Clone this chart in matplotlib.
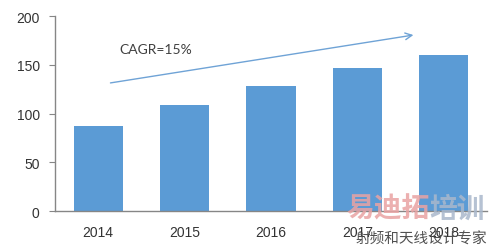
import matplotlib
matplotlib.use("Agg")
import matplotlib.pyplot as plt

years = ["2014", "2015", "2016", "2017", "2018"]
values = [87, 109, 128, 147, 160]
cagr_label = "CAGR=15%"
yticks = [0, 50, 100, 150, 200]

bar_color = "#5B9BD5"
axis_color = "#868686"

plt.rcParams['font.family'] = ['Liberation Sans', 'DejaVu Sans']

fig = plt.figure(figsize=(5.0, 2.51), dpi=100)
ax = fig.add_axes([0.11, 0.155, 0.864, 0.777])

x = list(range(len(years)))
ax.bar(x, values, width=0.57, color=bar_color, zorder=2)

ax.set_xlim(-0.5, 4.5)
ax.set_ylim(0, 200)
ax.set_xticks(x)
ax.set_xticklabels(years, fontsize=10, color="#333333")
ax.set_yticks(yticks)
ax.set_yticklabels([str(t) for t in yticks], fontsize=10, color="#333333")
ax.tick_params(axis='x', length=0, pad=10)
ax.tick_params(axis='y', length=4, color=axis_color, pad=7)

for s in ["top", "right"]:
    ax.spines[s].set_visible(False)
for s in ["left", "bottom"]:
    ax.spines[s].set_color(axis_color)
    ax.spines[s].set_linewidth(1.0)

# growth arrow
ax.annotate("", xy=(3.68, 181), xytext=(0.11, 131),
            arrowprops=dict(arrowstyle="->", color="#6FA3D6", lw=1.0,
                            mutation_scale=12))
ax.text(0.67, 166, cagr_label, fontsize=10, color="#404040",
        ha="center", va="center", family=["Lato", "DejaVu Sans"])

# watermark
cjk = ["Noto Sans CJK SC", "DejaVu Sans"]
fig.text(0.692, 0.165, "易迪拓", fontsize=20, color="#E9A3A3", alpha=0.85,
         fontweight="bold", family=cjk, ha="left", va="center")
fig.text(0.858, 0.165, "培训", fontsize=20, color="#A9B8CC", alpha=0.85,
         fontweight="bold", family=cjk, ha="left", va="center")
fig.text(0.842, 0.045, "射频和天线设计专家", fontsize=10.5, color="#505050",
         family=cjk, ha="center", va="center")

fig.savefig("out.png", dpi=100)
